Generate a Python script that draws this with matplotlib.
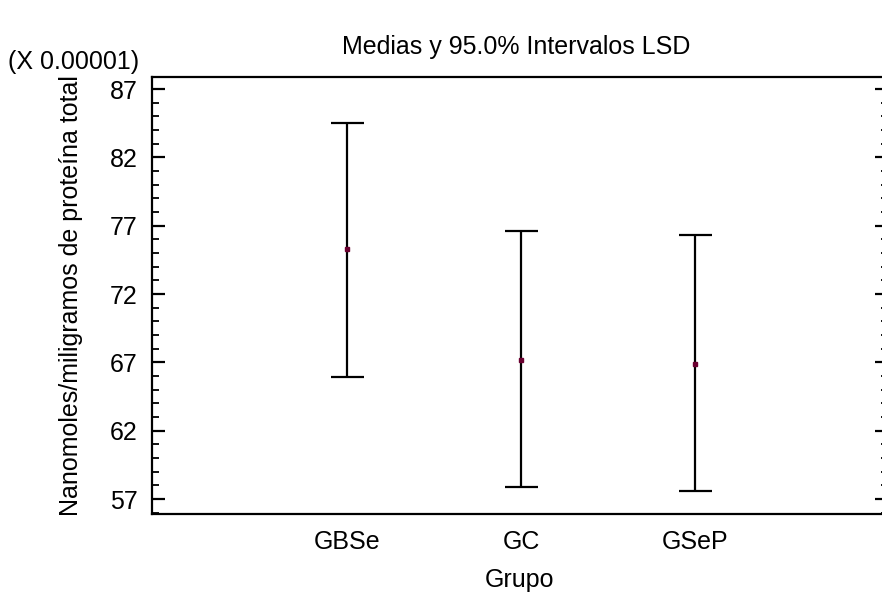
import matplotlib
matplotlib.use("Agg")
import matplotlib.pyplot as plt
from matplotlib.ticker import MultipleLocator
import numpy as np

plt.rcParams['font.family'] = ['Liberation Sans', 'DejaVu Sans']

groups = ["GBSe", "GC", "GSeP"]
means = [75.3, 67.2, 66.9]
lower = [65.9, 57.85, 57.55]
upper = [84.5, 76.6, 76.3]
yticks = [57, 62, 67, 72, 77, 82, 87]

FS = 18
fig = plt.figure(figsize=(8.82, 5.95), dpi=100)
W, H = 882, 595
ax = fig.add_axes([151.5 / W, 1 - 513.5 / H, (888 - 151.5) / W, (513.5 - 77) / H])

x = np.arange(len(groups))
m = np.array(means)
err = np.vstack([m - np.array(lower), np.array(upper) - m])
ax.errorbar(x, m, yerr=err, fmt='none', ecolor='black', elinewidth=1.6,
            capsize=16.5 * 72 / 100, capthick=1.6)
ax.plot(x, m, 's', color='#6b0030', markersize=3, zorder=5)

ax.set_xlim(-1.125, 3.107)
ax.set_ylim(55.94, 87.88)
ax.set_xticks(x)
ax.set_xticklabels(groups)
ax.set_yticks(yticks)
ax.yaxis.set_minor_locator(MultipleLocator(1))

for s in ax.spines.values():
    s.set_linewidth(1.6)

ax.tick_params(axis='y', which='major', direction='in', length=9.5, width=1.6,
               labelsize=FS, pad=10, right=True)
ax.tick_params(axis='y', which='minor', direction='in', length=5, width=1.3,
               right=True)
ax.tick_params(axis='x', which='major', length=0, labelsize=FS, pad=12)

ax.set_xlabel("Grupo", fontsize=FS, labelpad=10)
fig.text(71 / W, 1 - 296 / H, "Nanomoles/miligramos de proteína total",
         rotation=90, ha='center', va='center', fontsize=FS)
fig.text(516 / W, 1 - 47 / H, "Medias y 95.0% Intervalos LSD", ha='center',
         va='center', fontsize=FS)
fig.text(74 / W, 1 - 62 / H, "(X 0.00001)", ha='center', va='center',
         fontsize=FS)

fig.savefig("out.png", dpi=100)
